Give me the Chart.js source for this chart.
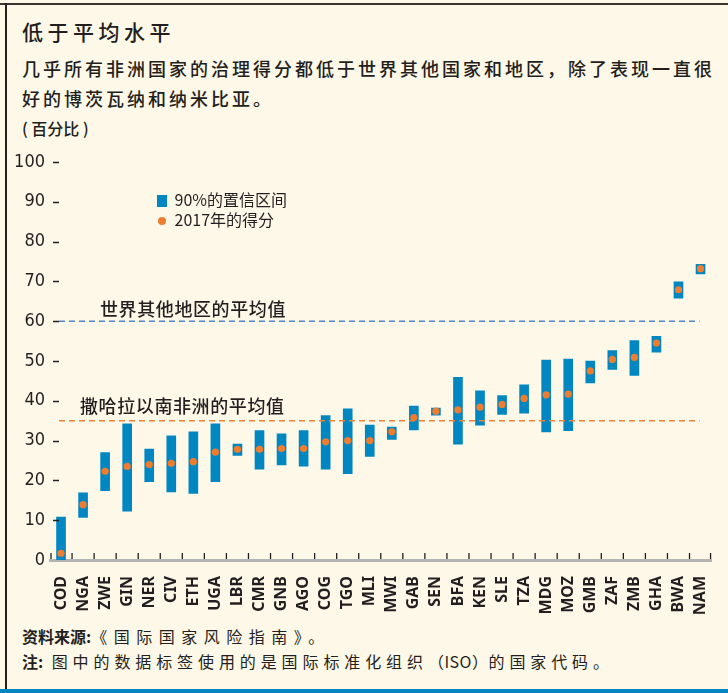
<!DOCTYPE html>
<html>
<head>
<meta charset="utf-8">
<script src="https://cdn.jsdelivr.net/npm/chart.js@4.4.1/dist/chart.umd.min.js"></script>
<style>
    html, body {
        margin: 0;
        padding: 0;
    }
    body {
        width: 728px;
        height: 693px;
        position: relative;
        overflow: hidden;
        background: #fef8e8;
        font-family: 'Noto Sans CJK SC', 'Noto Sans', sans-serif;
        color: #231f20;
    }
    .line-top {
        position: absolute; left: 0; top: 3px; width: 728px; height: 2px; background: #3b3631;
    }
    .line-left {
        position: absolute; left: 5px; top: 3px; width: 2px; height: 687px; background: #231f20;
    }
    .line-bottom {
        position: absolute; left: 0; top: 689px; width: 728px; height: 4px; background: #0086c0;
    }
    .txt {
        position: absolute;
        white-space: nowrap;
        line-height: 1;
    }
    #title {
        left: 22px; top: 21px; font-size: 21px; letter-spacing: 4.5px; font-weight: 500;
    }
    .sub {
        left: 22px; font-size: 18px; letter-spacing: 3px; font-weight: 500;
    }
    #unit {
        left: 22px; top: 120px; font-size: 16px; font-weight: 500;
    }
    .foot {
        left: 22px; font-size: 16px; letter-spacing: 4.9px;
    }
    .foot b {
        letter-spacing: 0;
        font-weight: 700;
    }
    .iso {
        letter-spacing: 0.5px;
    }
    .legend {
        position: absolute;
        font-size: 16px;
        line-height: 1;
        white-space: nowrap;
    }
    #chart {
        position: absolute;
        left: 0;
        top: 140px;
    }
</style>
</head>
<body>
<div class="line-top"></div>
<div class="line-left"></div>
<div class="line-bottom"></div>

<div class="txt" id="title">低于平均水平</div>
<div class="txt sub" style="top: 59px;">几乎所有非洲国家的治理得分都低于世界其他国家和地区，除了表现一直很</div>
<div class="txt sub" style="top: 89px;">好的博茨瓦纳和纳米比亚。</div>
<div class="txt" id="unit">(&nbsp;百分比&nbsp;)</div>

<canvas id="chart" width="728" height="480"></canvas>

<div class="legend" style="left: 157px; top: 191px;">
    <span style="display:inline-block; width:10px; height:12px; background:#0087c1; vertical-align:-1px;"></span>
    <span style="margin-left: 4px;">90%的置信区间</span>
</div>
<div class="legend" style="left: 157px; top: 211px;">
    <span style="display:inline-block; width:8px; height:8px; border-radius:50%; background:#ef7d2f; margin-left:1px; vertical-align:1px;"></span>
    <span style="margin-left: 5px;">2017年的得分</span>
</div>

<div class="txt foot" style="top: 628px; letter-spacing: 6.5px;"><b>资料来源:</b>《国际国家风险指南》。</div>
<div class="txt foot" style="top: 653px;"><b>注:</b> 图中的数据标签使用的是国际标准化组织<span class="iso">（ISO）</span>的国家代码。</div>

<script>
const countries = [
    'COD', 'NGA', 'ZWE', 'GIN', 'NER', 'CIV', 'ETH', 'UGA', 'LBR', 'CMR',
    'GNB', 'AGO', 'COG', 'TGO', 'MLI', 'MWI', 'GAB', 'SEN', 'BFA', 'KEN',
    'SLE', 'TZA', 'MDG', 'MOZ', 'GMB', 'ZAF', 'ZMB', 'GHA', 'BWA', 'NAM',
];

// 90% confidence interval, low and high ends
const ciLow = [
    0, 10.7, 17.4, 12.3, 19.7, 17.1, 16.7, 19.7, 26.3, 22.8,
    23.9, 23.6, 22.8, 21.7, 26.0, 30.3, 32.7, 36.4, 29.1, 33.9,
    36.6, 36.9, 32.2, 32.5, 44.5, 47.9, 46.4, 52.2, 65.8, 71.9,
];
const ciHigh = [
    10.8, 16.9, 27.0, 34.2, 27.9, 31.2, 32.2, 34.2, 29.1, 32.5,
    31.7, 32.5, 36.3, 38.0, 33.9, 33.4, 38.7, 38.2, 45.9, 42.5,
    41.3, 44.0, 50.2, 50.5, 50.0, 52.6, 55.1, 56.2, 69.9, 74.3,
];

// 2017 scores
const score2017 = [
    1.7, 13.9, 22.3, 23.5, 24.0, 24.3, 24.7, 27.1, 27.8, 27.8,
    28.0, 28.0, 29.7, 30.0, 30.0, 32.2, 35.8, 37.4, 37.7, 38.4,
    39.1, 40.6, 41.5, 41.7, 47.5, 50.4, 50.9, 54.5, 67.9, 73.2,
];

const worldAvg = 60;
const ssaAvg = 35;

const yTicks = [0, 10, 20, 30, 40, 50, 60, 70, 80, 90, 100];

// reference lines, labels and small tick marks
const extras = {
    id: 'extras',
    afterDatasetDraw(chart, args) {
        if (args.index !== 1) return;
        const ctx = chart.ctx;
        const area = chart.chartArea;
        const y = chart.scales.y;

        ctx.save();
        ctx.lineWidth = 1.6;
        ctx.setLineDash([6, 4]);

        ctx.strokeStyle = '#4d87c7';
        ctx.beginPath();
        ctx.moveTo(area.left + 9, y.getPixelForValue(worldAvg));
        ctx.lineTo(area.right - 12, y.getPixelForValue(worldAvg));
        ctx.stroke();

        ctx.strokeStyle = '#ee8236';
        ctx.beginPath();
        ctx.moveTo(area.left + 9, y.getPixelForValue(ssaAvg));
        ctx.lineTo(area.right - 12, y.getPixelForValue(ssaAvg));
        ctx.stroke();
        ctx.restore();
    },
    afterDraw(chart) {
        const ctx = chart.ctx;
        const area = chart.chartArea;
        const x = chart.scales.x;
        const y = chart.scales.y;

        ctx.save();
        ctx.fillStyle = '#231f20';
        ctx.font = '500 18px "Noto Sans CJK SC"';
        ctx.textBaseline = 'middle';
        ctx.textAlign = 'left';
        ctx.letterSpacing = '0.6px';
        ctx.fillText('世界其他地区的平均值', area.left + 50, y.getPixelForValue(worldAvg) - 12);
        ctx.fillText('撒哈拉以南非洲的平均值', area.left + 30, y.getPixelForValue(ssaAvg) - 15);

        // y tick dashes
        ctx.strokeStyle = '#231f20';
        ctx.lineWidth = 1.5;
        yTicks.forEach((v) => {
            if (v === 0) return;
            const py = Math.round(y.getPixelForValue(v)) + 0.5;
            ctx.beginPath();
            ctx.moveTo(area.left + 3, py);
            ctx.lineTo(area.left + 9, py);
            ctx.stroke();
        });

        // x tick marks between categories
        ctx.lineWidth = 1.3;
        for (let i = 0; i <= countries.length; i++) {
            let px;
            if (i === 0) px = area.left + 1;
            else if (i === countries.length) px = area.right - 1;
            else px = (x.getPixelForValue(i - 1) + x.getPixelForValue(i)) / 2;
            ctx.beginPath();
            ctx.moveTo(px, area.bottom - 7);
            ctx.lineTo(px, area.bottom - 1);
            ctx.stroke();
        }
        ctx.restore();
    },
};

const data = {
    labels: countries,
    datasets: [
        {
            type: 'line',
            label: '2017年的得分',
            data: score2017,
            showLine: false,
            pointRadius: 3.6,
            pointBackgroundColor: '#ef7d2f',
            pointBorderWidth: 0,
            order: 0,
        },
        {
            type: 'bar',
            label: '90%的置信区间',
            data: countries.map((c, i) => [ciLow[i], ciHigh[i]]),
            backgroundColor: '#0087c1',
            barThickness: 9,
            order: 1,
        },
    ],
};

const config = {
    type: 'bar',
    data: data,
    plugins: [extras],
    options: {
        responsive: false,
        animation: false,
        layout: {
            padding: { top: 22, right: 16, bottom: 0, left: 0 },
        },
        plugins: {
            legend: { display: false },
            tooltip: { enabled: false },
        },
        scales: {
            x: {
                grid: { display: false },
                border: { display: true, color: '#b4b4b4', width: 3 },
                ticks: {
                    autoSkip: false,
                    minRotation: 90,
                    maxRotation: 90,
                    padding: 8,
                    color: '#231f20',
                    font: { family: "'Noto Sans', sans-serif", size: 16, weight: 'bold' },
                },
                afterFit: (s) => { s.height = 60; },
            },
            y: {
                min: 0,
                max: 100,
                grid: { display: false, drawTicks: false },
                border: { display: false },
                ticks: {
                    stepSize: 10,
                    padding: 5,
                    color: '#231f20',
                    font: { family: "'Liberation Sans Narrow', 'DejaVu Sans Condensed', sans-serif", size: 18 },
                },
                afterFit: (s) => { s.width = 50; },
            },
        },
    },
};

new Chart(document.getElementById('chart'), config);
</script>
</body>
</html>
